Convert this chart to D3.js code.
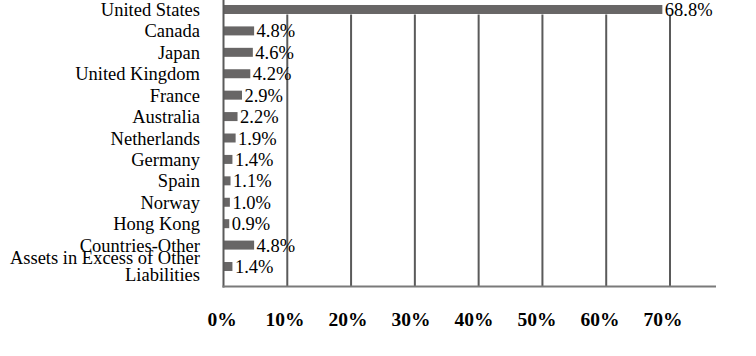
<!DOCTYPE html>
<html>
<head>
<meta charset="utf-8">
<script src="https://cdn.jsdelivr.net/npm/d3@7"></script>
<style>
  html, body { margin: 0; padding: 0; background: #fff; }
  svg { display: block; }
  text { font-family: "Liberation Serif", "Times New Roman", serif; }
</style>
</head>
<body>
<svg id="chart" width="756" height="356"></svg>
<script>
const categories = ["United States", "Canada", "Japan", "United Kingdom", "France", "Australia",
  "Netherlands", "Germany", "Spain", "Norway", "Hong Kong", "Countries-Other",
  "Assets in Excess of Other Liabilities"];
const values = [68.8, 4.8, 4.6, 4.2, 2.9, 2.2, 1.9, 1.4, 1.1, 1.0, 0.9, 4.8, 1.4];
const valueLabels = ["68.8%", "4.8%", "4.6%", "4.2%", "2.9%", "2.2%", "1.9%", "1.4%", "1.1%", "1.0%", "0.9%", "4.8%", "1.4%"];
const tickValues = [0, 10, 20, 30, 40, 50, 60, 70];
const tickLabels = ["0%", "10%", "20%", "30%", "40%", "50%", "60%", "70%"];

const svg = d3.select("#chart");
const x0 = 223.5, axisY = 286.5, axisEnd = 716;
const x = d3.scaleLinear().domain([0, 70]).range([x0, 670]);
const xLabel = d3.scaleLinear().domain([0, 70]).range([222, 663]);
const y = d3.scaleBand().domain(categories).range([0, 276]).paddingInner(0.58).paddingOuter(0.233);

const lineColor = "#5a5a5a";

// gridlines
svg.append("g").selectAll("line").data(tickValues.filter(v => v > 0)).join("line")
  .attr("x1", d => x(d)).attr("x2", d => x(d))
  .attr("y1", 14.5).attr("y2", axisY)
  .attr("stroke", lineColor).attr("stroke-width", 2);

// bars
svg.append("g").selectAll("rect").data(categories).join("rect")
  .attr("x", x(0))
  .attr("y", d => y(d))
  .attr("width", (d, i) => x(values[i]) - x(0))
  .attr("height", y.bandwidth())
  .attr("fill", "#686666");

// left axis line
svg.append("line").attr("x1", x0).attr("x2", x0).attr("y1", 0).attr("y2", axisY + 1)
  .attr("stroke", lineColor).attr("stroke-width", 2);
// bottom axis line
svg.append("line").attr("x1", x0 - 1).attr("x2", axisEnd).attr("y1", axisY).attr("y2", axisY)
  .attr("stroke", "#7a7a7a").attr("stroke-width", 2);

// value labels
svg.append("g").selectAll("text").data(categories).join("text")
  .attr("x", (d, i) => x(values[i]) + 2.5)
  .attr("y", d => y(d) + y.bandwidth() / 2 + 6.5)
  .attr("font-size", 18.5)
  .attr("fill", "#000")
  .text((d, i) => valueLabels[i]);

// category labels
const catG = svg.append("g");
categories.forEach(c => {
  const cy = y(c) + y.bandwidth() / 2;
  if (c === "Assets in Excess of Other Liabilities") {
    const t = catG.append("text").attr("x", 200).attr("text-anchor", "end").attr("font-size", 18.5).attr("fill", "#000");
    t.append("tspan").attr("x", 200).attr("y", cy - 3).text("Assets in Excess of Other");
    t.append("tspan").attr("x", 200).attr("y", cy + 14).text("Liabilities");
  } else {
    catG.append("text").attr("x", 200).attr("y", cy + 6.5)
      .attr("text-anchor", "end").attr("font-size", 18.5).attr("fill", "#000").text(c);
  }
});

// x tick labels
svg.append("g").selectAll("text").data(tickValues).join("text")
  .attr("x", d => xLabel(d))
  .attr("y", 326)
  .attr("text-anchor", "middle")
  .attr("font-size", 19.5)
  .attr("font-weight", "bold")
  .attr("fill", "#000")
  .text((d, i) => tickLabels[i]);
</script>
</body>
</html>
